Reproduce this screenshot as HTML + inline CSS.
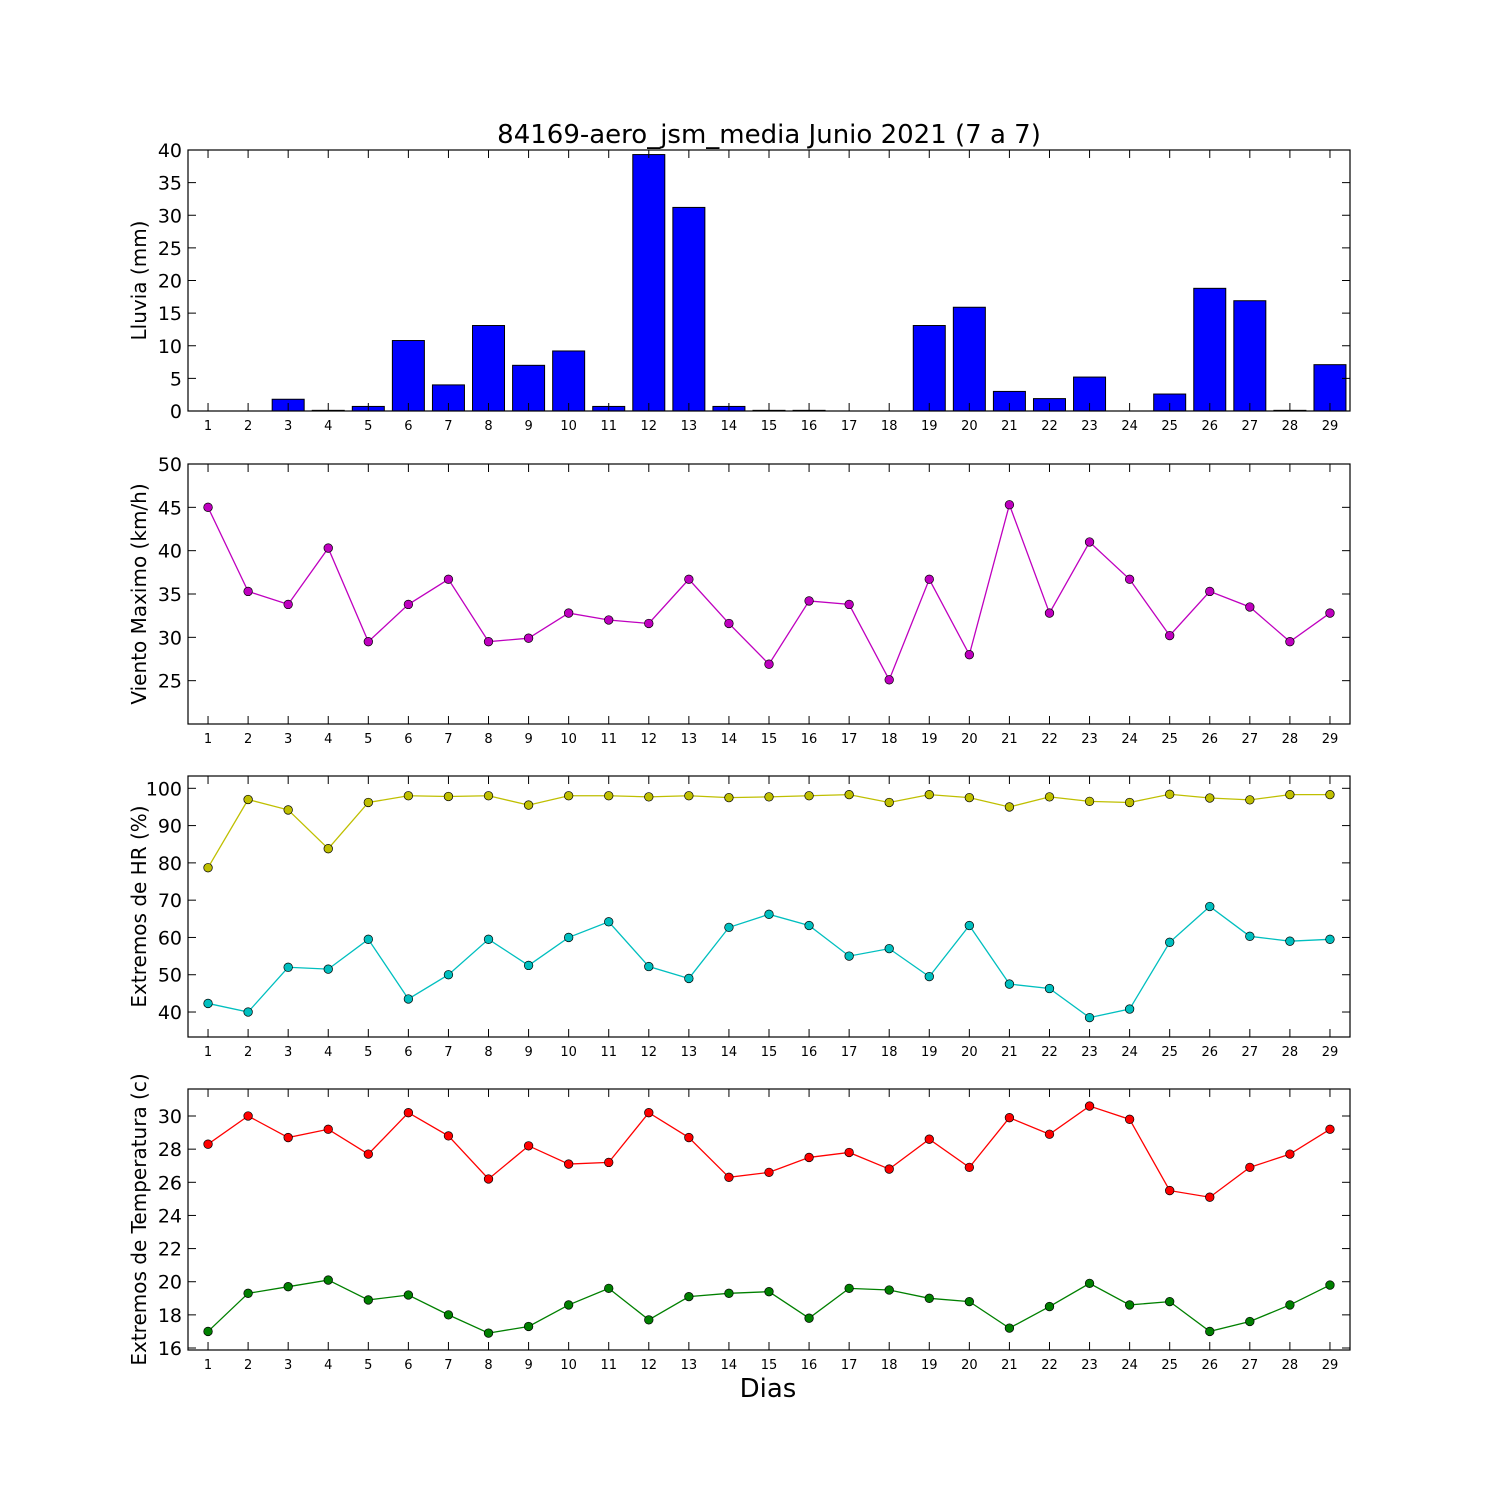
<!DOCTYPE html>
<html><head><meta charset="utf-8"><style>
body{margin:0;background:#fff}
svg text{font-family:"DejaVu Sans","Liberation Sans",sans-serif}
</style></head><body>
<svg id="c" width="1500" height="1500" xmlns="http://www.w3.org/2000/svg">
<rect width="1500" height="1500" fill="#fff"/>
<text x="769" y="143" font-size="26" text-anchor="middle">84169-aero_jsm_media Junio 2021  (7 a 7)</text>
<text x="768" y="1397" font-size="26" text-anchor="middle">Dias</text>
</svg>
<script>
const days=[1,2,3,4,5,6,7,8,9,10,11,12,13,14,15,16,17,18,19,20,21,22,23,24,25,26,27,28,29];
const rain=[0,0,1.8,0.1,0.7,10.8,4,13.1,7,9.2,0.7,39.3,31.2,0.7,0.1,0.1,0,0,13.1,15.9,3,1.9,5.2,0,2.6,18.8,16.9,0.1,7.1];
const wind=[45,35.3,33.8,40.3,29.5,33.8,36.7,29.5,29.9,32.8,32,31.6,36.7,31.6,26.9,34.2,33.8,25.1,36.7,28,45.3,32.8,41,36.7,30.2,35.3,33.5,29.5,32.8];
const hrMax=[78.7,97,94.2,83.8,96.2,98,97.8,98,95.5,98,98,97.7,98,97.5,97.7,98,98.3,96.2,98.3,97.5,95,97.7,96.5,96.2,98.4,97.4,96.9,98.3,98.3];
const hrMin=[42.3,40,52,51.5,59.5,43.5,50,59.5,52.5,60,64.2,52.2,49,62.7,66.2,63.2,55,57,49.5,63.2,47.5,46.3,38.5,40.8,58.7,68.3,60.3,59,59.5];
const tMax=[28.3,30,28.7,29.2,27.7,30.2,28.8,26.2,28.2,27.1,27.2,30.2,28.7,26.3,26.6,27.5,27.8,26.8,28.6,26.9,29.9,28.9,30.6,29.8,25.5,25.1,26.9,27.7,29.2];
const tMin=[17,19.3,19.7,20.1,18.9,19.2,18,16.9,17.3,18.6,19.6,17.7,19.1,19.3,19.4,17.8,19.6,19.5,19,18.8,17.2,18.5,19.9,18.6,18.8,17,17.6,18.6,19.8];
const rainTicks=[0,5,10,15,20,25,30,35,40];
const windTicks=[25,30,35,40,45,50];
const hrTicks=[40,50,60,70,80,90,100];
const tTicks=[16,18,20,22,24,26,28,30];

const NS="http://www.w3.org/2000/svg";
const svg=document.getElementById('c');
function mk(t,a,p){const e=document.createElementNS(NS,t);for(const k in a)e.setAttribute(k,a[k]);(p||svg).appendChild(e);return e;}
const X0=188,X1=1350;
const xs=d=>X0+(d-0.5)/29*(X1-X0);

function panel(name,top,bot,ymin,ymax,ticks,label){
  const g=mk('g',{});
  
  
  const ys=v=>bot-(v-ymin)/(ymax-ymin)*(bot-top);
  return {g,ys,top,bot,ticks,label,name};
}
function frame(p){
  const {g,ys,top,bot,ticks,label,name}=p;
  days.forEach(d=>{const x=xs(d);
    mk('line',{x1:x,x2:x,y1:bot,y2:bot-8,stroke:'#000'},g);
    mk('line',{x1:x,x2:x,y1:top,y2:top+8,stroke:'#000'},g);
    const t=mk('text',{x:x,y:bot+19,'font-size':13,'text-anchor':'middle'},g);t.textContent=d;
    
  });
  ticks.forEach(v=>{const y=ys(v);
    mk('line',{x1:X0,x2:X0+8,y1:y,y2:y,stroke:'#000'},g);
    mk('line',{x1:X1,x2:X1-8,y1:y,y2:y,stroke:'#000'},g);
    const t=mk('text',{x:X0-6,y:y+7,'font-size':19,'text-anchor':'end'},g);t.textContent=v;
    
  });
  mk('rect',{x:X0,y:top,width:X1-X0,height:bot-top,fill:'none',stroke:'#000','stroke-width':1.2},g);
  const cy=(top+bot)/2;
  const t=mk('text',{x:0,y:0,'font-size':20,'text-anchor':'middle',transform:`translate(146,${cy}) rotate(-90)`},g);
  t.textContent=label;
}
function series(p,vals,color,sname){
  const {g,ys}=p;
  const pts=vals.map((v,i)=>xs(days[i])+','+ys(v)).join(' ');
  const l=mk('polyline',{points:pts,fill:'none',stroke:color,'stroke-width':1.3},g);
  
  vals.forEach((v,i)=>{const c=mk('circle',{cx:xs(days[i]),cy:ys(v),r:4.3,fill:color,stroke:'#000','stroke-width':0.7},g);
    });
}

const p1=panel('rain',150,411,0,40,rainTicks,'Lluvia (mm)');
rain.forEach((v,i)=>{const x=xs(days[i]);const y=p1.ys(v);
  const r=mk('rect',{x:x-16,y:y,width:32,height:p1.bot-y,fill:'#0000ff',stroke:'#000','stroke-width':1},p1.g);
  });
frame(p1);

const p2=panel('wind',464,724,20,50,windTicks,'Viento Maximo (km/h)');
series(p2,wind,'#bf00bf','wind');frame(p2);

const p3=panel('humidity',776,1037,33.3,103.3,hrTicks,'Extremos de HR (%)');
series(p3,hrMax,'#bfbf00','hr-max');series(p3,hrMin,'#00bfbf','hr-min');frame(p3);

const p4=panel('temperature',1089,1350,15.88,31.63,tTicks,'Extremos de Temperatura (c)');
series(p4,tMax,'#ff0000','temp-max');series(p4,tMin,'#008000','temp-min');frame(p4);
</script>
</body></html>
